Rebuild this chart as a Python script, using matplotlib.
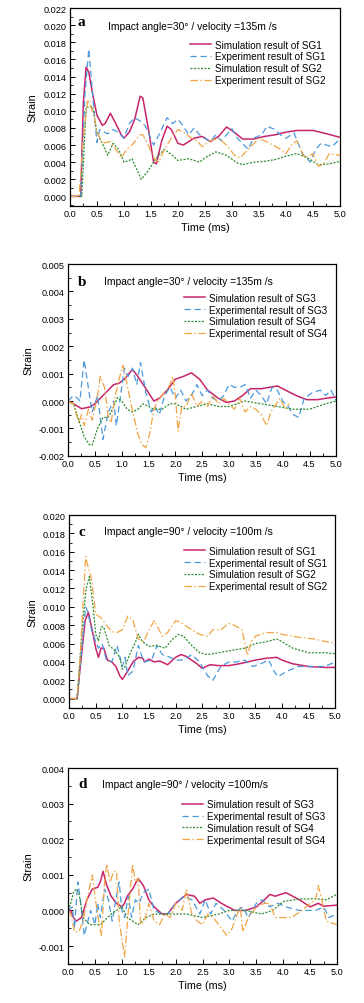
import matplotlib
matplotlib.use("Agg")
import matplotlib.pyplot as plt
from matplotlib.ticker import MultipleLocator, FormatStrFormatter

plt.rcParams['font.family'] = ['Liberation Sans', 'DejaVu Sans']

# ---- panel a: impact angle 30 deg, SG1 / SG2 ----
a_sim1_t = [0, 0.2, 0.25, 0.30, 0.35, 0.42, 0.5, 0.6, 0.65, 0.75, 0.85, 0.95, 1.0, 1.1, 1.2, 1.3, 1.35,
            1.45, 1.55, 1.6, 1.7, 1.8, 1.88, 2.0, 2.1, 2.3, 2.45, 2.6, 2.75, 2.9, 3.0, 3.2, 3.4, 3.6,
            3.8, 4.0, 4.2, 4.5, 4.7, 5.0]
a_sim1_v = [0, 0, 0.011, 0.0151, 0.0145, 0.012, 0.0095, 0.0083, 0.0085, 0.0097, 0.0085, 0.0072, 0.0068,
            0.0075, 0.009, 0.0117, 0.0115, 0.008, 0.004, 0.0038, 0.0065, 0.0082, 0.0078, 0.0062, 0.006,
            0.0068, 0.007, 0.0064, 0.007, 0.0081, 0.0077, 0.0067, 0.0067, 0.007, 0.0072, 0.0075, 0.0077,
            0.0077, 0.0074, 0.0069]
a_exp1_t = [0, 0.2, 0.28, 0.35, 0.42, 0.5, 0.55, 0.7, 0.8, 0.9, 1.0, 1.1, 1.2, 1.3, 1.4, 1.55, 1.65, 1.8,
            1.9, 2.0, 2.1, 2.2, 2.3, 2.4, 2.5, 2.6, 2.7, 2.8, 2.9, 3.0, 3.1, 3.3, 3.4, 3.55, 3.65, 3.8,
            3.9, 4.0, 4.15, 4.3, 4.45, 4.55, 4.65, 4.85, 5.0]
a_exp1_v = [0, 0, 0.012, 0.0172, 0.012, 0.0063, 0.0078, 0.0073, 0.0078, 0.0075, 0.0068, 0.0085, 0.0092,
            0.0088, 0.0082, 0.006, 0.0072, 0.0092, 0.0085, 0.009, 0.0082, 0.0072, 0.008, 0.0072, 0.0068,
            0.0064, 0.0072, 0.0065, 0.0072, 0.0079, 0.0068, 0.0055, 0.0068, 0.0072, 0.0082, 0.0078,
            0.0072, 0.0068, 0.0074, 0.005, 0.004, 0.0055, 0.0062, 0.0058, 0.0067]
a_sim2_t = [0, 0.22, 0.3, 0.42, 0.5, 0.6, 0.7, 0.8, 0.9, 1.0, 1.1, 1.15, 1.25, 1.32, 1.45, 1.6, 1.75,
            1.9, 2.0, 2.2, 2.4, 2.5, 2.7, 2.9, 3.1, 3.2, 3.4, 3.6, 3.8, 4.0, 4.2, 4.4, 4.6, 4.8, 5.0]
a_sim2_v = [0, 0, 0.0104, 0.0105, 0.0075, 0.0062, 0.0048, 0.0062, 0.0055, 0.004, 0.0042, 0.0044, 0.003,
            0.002, 0.003, 0.0045, 0.0055, 0.0048, 0.0042, 0.0044, 0.004, 0.0045, 0.0052, 0.0048, 0.0039,
            0.0037, 0.004, 0.0041, 0.0043, 0.0047, 0.005, 0.0045, 0.0037, 0.0038, 0.0041]
a_exp2_t = [0, 0.17, 0.25, 0.33, 0.45, 0.5, 0.6, 0.75, 0.85, 0.95, 1.05, 1.15, 1.3, 1.35, 1.45, 1.55,
            1.65, 1.75, 1.9, 2.0, 2.1, 2.25, 2.35, 2.45, 2.6, 2.75, 2.9, 3.05, 3.15, 3.3, 3.5, 3.7, 3.9,
            4.0, 4.1, 4.2, 4.35, 4.5, 4.6, 4.7, 4.8, 5.0]
a_exp2_v = [0, 0, 0.007, 0.0113, 0.0095, 0.0075, 0.0062, 0.0064, 0.0055, 0.0045, 0.0055, 0.006, 0.0072,
            0.0072, 0.006, 0.0045, 0.004, 0.0055, 0.007, 0.0078, 0.0075, 0.0068, 0.0065, 0.0058, 0.0065,
            0.0068, 0.006, 0.0048, 0.0045, 0.0055, 0.0068, 0.0062, 0.0055, 0.005, 0.006, 0.0065, 0.0045,
            0.005, 0.0035, 0.0038, 0.005, 0.0048]

# ---- panel b: impact angle 30 deg, SG3 / SG4 ----
b_sim3_t = [0, 0.1, 0.25, 0.4, 0.5, 0.6, 0.75, 0.85, 0.95, 1.05, 1.2, 1.3, 1.4, 1.5, 1.6, 1.7, 1.85,
            2.0, 2.15, 2.3, 2.45, 2.6, 2.8, 2.95, 3.1, 3.25, 3.4, 3.6, 3.75, 3.9, 4.05, 4.25, 4.45, 4.65,
            4.8, 5.0]
b_sim3_v = [0, -0.0001, -0.00028, -0.00022, -0.0001, 0.0001, 0.0004, 0.0006, 0.00065, 0.0008, 0.00115,
            0.0009, 0.0006, 0.0003, 0.0, 0.0001, 0.0004, 0.0008, 0.0009, 0.00103, 0.0008, 0.0004, 0.0001,
            -0.00005, 0.0, 0.0002, 0.00045, 0.00045, 0.0005, 0.00055, 0.0004, 0.0002, 0.00005, 0.00005,
            0.0001, 0.00015]
b_exp3_t = [0, 0.1, 0.18, 0.22, 0.3, 0.4, 0.45, 0.55, 0.65, 0.75, 0.85, 0.9, 0.95, 1.05, 1.12, 1.2, 1.28,
            1.35, 1.45, 1.55, 1.62, 1.7, 1.8, 1.9, 2.0, 2.1, 2.2, 2.3, 2.4, 2.5, 2.6, 2.7, 2.8, 2.9, 3.0,
            3.1, 3.2, 3.3, 3.4, 3.5, 3.6, 3.7, 3.8, 3.9, 4.0, 4.1, 4.2, 4.3, 4.4, 4.55, 4.7, 4.8, 4.9, 5.0]
b_exp3_v = [0, 0.0002, 0.0001, 0.0, 0.0015, 0.0002, -0.0004, 0.0002, -0.0014, -0.0004, 0.0, -0.0009,
            -0.0002, 0.0012, 0.0009, 0.0012, 0.0006, 0.0014, 0.0003, -0.0004, -0.0002, -0.0005, 0.0002,
            0.0005, 0.0001, 0.0004, 0.0, 0.0002, 0.0006, 0.0002, 0.0004, 0.0001, 0.0, 0.0002, 0.0006,
            0.0005, 0.0005, 0.0006, 0.0001, 0.0004, 0.0002, -0.0001, 0.0005, 0.0004, 0.0, -0.0002,
            -0.0005, -0.0006, 0.0001, 0.0003, 0.0004, 0.0002, 0.0004, 0.0]
b_sim4_t = [0, 0.1, 0.2, 0.3, 0.4, 0.45, 0.55, 0.65, 0.75, 0.85, 0.92, 1.0, 1.1, 1.2, 1.3, 1.4, 1.5, 1.6,
            1.75, 1.9, 2.0, 2.2, 2.4, 2.6, 2.8, 3.0, 3.3, 3.6, 3.9, 4.2, 4.5, 4.8, 5.0]
b_sim4_v = [0, -0.0001, -0.0007, -0.0013, -0.0016, -0.0016, -0.001, -0.0006, -0.0006, -0.0002, 0.00012,
            0.0, -0.0003, -0.0004, -0.0003, -0.0001, -0.0002, -0.0003, -0.0003, -0.0001, -0.0001, -0.0003,
            -0.0002, -0.0001, -0.0002, -0.0002, 0.0, -0.0001, -0.0002, -0.0003, -0.0003, -0.0001, 0.0]
b_exp4_t = [0, 0.1, 0.2, 0.25, 0.3, 0.38, 0.45, 0.55, 0.6, 0.68, 0.75, 0.8, 0.88, 0.95, 1.02, 1.08, 1.15,
            1.22, 1.3, 1.38, 1.45, 1.52, 1.6, 1.7, 1.8, 1.9, 1.95, 2.0, 2.05, 2.12, 2.2, 2.3, 2.4, 2.5,
            2.6, 2.7, 2.8, 2.9, 3.0, 3.1, 3.2, 3.3, 3.4, 3.5, 3.6, 3.7, 3.78, 3.85, 3.95, 4.05, 4.12]
b_exp4_v = [0, -0.0001, -0.0008, -0.0005, -0.0009, -0.0003, -0.0007, 0.0002, 0.0009, 0.0005, -0.0006,
            -0.0008, 0.0002, 0.0008, 0.0013, 0.0008, 0.0001, -0.0005, -0.0012, -0.0016, -0.0017, -0.0012,
            -0.0003, 0.0001, 0.0003, 0.0006, 0.0009, 0.0002, -0.0011, -0.0002, -0.0002, 0.0003, -0.0002,
            0.0, -0.0002, 0.0002, -0.0001, 0.0001, -0.0001, -0.0003, 0.0001, -0.0004, -0.0002, -0.0003,
            -0.0005, -0.0009, -0.0004, -0.0002, 0.0001, -0.0003, -0.0001]

# ---- panel c: impact angle 90 deg, SG1 / SG2 ----
c_sim1_t = [0, 0.15, 0.2, 0.3, 0.36, 0.45, 0.5, 0.55, 0.6, 0.65, 0.72, 0.8, 0.88, 0.95, 1.0, 1.1, 1.2,
            1.3, 1.38, 1.42, 1.5, 1.6, 1.7, 1.85, 2.0, 2.1, 2.2, 2.4, 2.5, 2.65, 2.8, 3.0, 3.2, 3.5, 3.7,
            3.9, 4.0, 4.2, 4.5, 4.8, 5.0]
c_sim1_v = [0, 0, 0.003, 0.0085, 0.0094, 0.007, 0.0055, 0.0045, 0.0055, 0.0055, 0.0042, 0.004, 0.0035,
            0.0025, 0.0021, 0.003, 0.004, 0.0045, 0.0044, 0.004, 0.0043, 0.004, 0.0041, 0.0037, 0.0045,
            0.0048, 0.0046, 0.0038, 0.0033, 0.0037, 0.0036, 0.0036, 0.0038, 0.0042, 0.0044, 0.0045,
            0.0042, 0.0038, 0.0035, 0.0034, 0.0034]
c_exp1_t = [0, 0.15, 0.31, 0.35, 0.42, 0.5, 0.55, 0.62, 0.7, 0.8, 0.9, 1.0, 1.05, 1.1, 1.2, 1.3, 1.4,
            1.55, 1.65, 1.75, 1.9, 2.0, 2.15, 2.3, 2.45, 2.6, 2.7, 2.85, 3.0, 3.15, 3.3, 3.45, 3.6, 3.75,
            3.85, 3.92, 4.1, 4.3, 4.6, 4.8, 5.0]
c_exp1_v = [0, 0, 0.01, 0.0095, 0.0075, 0.0062, 0.0055, 0.006, 0.0042, 0.004, 0.0058, 0.0035, 0.0045,
            0.0025, 0.003, 0.0058, 0.004, 0.0042, 0.0058, 0.0048, 0.0045, 0.0042, 0.0042, 0.0048, 0.004,
            0.0025, 0.002, 0.0035, 0.004, 0.004, 0.0042, 0.0035, 0.0038, 0.0042, 0.003, 0.0024, 0.003,
            0.0035, 0.0035, 0.0035, 0.004]
c_sim2_t = [0, 0.15, 0.25, 0.32, 0.38, 0.45, 0.5, 0.55, 0.6, 0.65, 0.75, 0.85, 0.95, 1.0, 1.05, 1.15,
            1.25, 1.3, 1.38, 1.5, 1.65, 1.8, 1.95, 2.05, 2.15, 2.3, 2.45, 2.6, 2.8, 3.0, 3.3, 3.5, 3.7,
            3.9, 4.0, 4.2, 4.5, 4.8, 5.0]
c_sim2_v = [0, 0, 0.008, 0.012, 0.0133, 0.01, 0.007, 0.0063, 0.0078, 0.0078, 0.0058, 0.0053, 0.0045,
            0.0032, 0.0035, 0.005, 0.0062, 0.007, 0.0062, 0.0057, 0.0058, 0.0055, 0.0065, 0.007, 0.0068,
            0.0058, 0.005, 0.0048, 0.005, 0.0052, 0.0055, 0.006, 0.0062, 0.0065, 0.0062, 0.0055, 0.005,
            0.005, 0.0049]
c_exp2_t = [0, 0.15, 0.2, 0.31, 0.35, 0.42, 0.5, 0.6, 0.7, 0.8, 0.9, 1.0, 1.1, 1.2, 1.3, 1.4, 1.5, 1.6,
            1.75, 1.85, 2.0, 2.1, 2.3, 2.45, 2.6, 2.7, 2.85, 3.0, 3.1, 3.25, 3.3, 3.35, 3.42, 3.5, 3.7,
            3.9, 4.0, 4.3, 4.6, 5.0]
c_exp2_v = [0, 0, 0.004, 0.0155, 0.0145, 0.013, 0.0092, 0.0088, 0.008, 0.0073, 0.0072, 0.0075, 0.009,
            0.0085, 0.0065, 0.0062, 0.0075, 0.0085, 0.0068, 0.0072, 0.0085, 0.0083, 0.0075, 0.007,
            0.0068, 0.0075, 0.0075, 0.0082, 0.008, 0.0075, 0.006, 0.0047, 0.0062, 0.0068, 0.0072, 0.0072,
            0.007, 0.0067, 0.0065, 0.006]

# ---- panel d: impact angle 90 deg, SG3 / SG4 ----
d_sim3_t = [0, 0.05, 0.1, 0.15, 0.25, 0.35, 0.45, 0.55, 0.6, 0.65, 0.72, 0.8, 0.9, 1.0, 1.05, 1.1, 1.2,
            1.3, 1.4, 1.5, 1.6, 1.75, 1.85, 2.0, 2.2, 2.35, 2.45, 2.55, 2.7, 2.85, 3.1, 3.3, 3.5, 3.65,
            3.75, 3.85, 4.05, 4.3, 4.5, 4.65, 4.75, 5.0]
d_sim3_v = [0, 0.0, -0.0002, -0.0003, -0.0002, 0.0003, 0.0006, 0.00065, 0.0008, 0.0011, 0.0007, 0.0004,
            0.0002, 0.0001, 0.0002, 0.0004, 0.0006, 0.0009, 0.0007, 0.0003, 0.0001, -0.0001, -0.0001,
            0.0002, 0.00045, 0.0004, 0.0002, 0.0003, 0.00035, 0.0002, 0.0, 0.0, 0.0001, 0.0003, 0.00045,
            0.0004, 0.0005, 0.0003, 0.0001, 0.0002, 0.00012, 0.00015]
d_exp3_t = [0, 0.08, 0.12, 0.18, 0.22, 0.3, 0.35, 0.42, 0.5, 0.55, 0.6, 0.68, 0.75, 0.82, 0.9, 0.95, 1.0,
            1.05, 1.12, 1.18, 1.25, 1.32, 1.4, 1.5, 1.6, 1.75, 1.85, 2.0, 2.15, 2.3, 2.45, 2.55, 2.65,
            2.75, 2.9, 3.05, 3.15, 3.25, 3.35, 3.5, 3.6, 3.75, 3.9, 4.05, 4.3, 4.6, 4.75, 4.85, 5.0]
d_exp3_v = [0, 0.0001, -0.0005, 0.0008, 0.0004, -0.0007, -0.0004, 0.0, -0.0004, 0.0002, -0.0002, 0.0006,
            0.0003, -0.0003, 0.0004, 0.0008, 0.0, -0.0002, 0.0004, -0.0002, 0.0003, 0.0002, 0.0005,
            0.0006, 0.0, -0.0001, -0.0001, 0.0002, 0.0004, 0.0003, -0.0001, 0.0003, -0.0001, 0.0002, 0.0,
            -0.0003, 0.0, 0.0001, -0.0002, 0.0002, 0.0003, 0.0001, 0.0002, 0.0001, 0.0, 0.0, 0.0001,
            -0.0002, -0.0001]
d_sim4_t = [0, 0.05, 0.1, 0.15, 0.2, 0.28, 0.4, 0.6, 0.8, 1.0, 1.1, 1.3, 1.45, 1.6, 1.8, 2.0, 2.2, 2.5,
            2.8, 3.0, 3.3, 3.6, 3.8, 4.0, 4.3, 4.6, 4.8, 5.0]
d_sim4_v = [0, 0.0002, 0.0005, 0.0006, 0.0005, -0.0002, -0.0004, -0.0004, -0.0001, 0.0001, -0.0002,
            -0.0004, -0.0002, -0.0001, -0.0001, -0.0001, -0.0001, -0.0002, -0.0001, 0.0, 0.0, -0.0001,
            0.0, 0.00025, 0.00032, 0.00033, 0.0003, 0.00045]
d_exp4_t = [0, 0.05, 0.12, 0.2, 0.28, 0.35, 0.45, 0.5, 0.58, 0.62, 0.68, 0.72, 0.78, 0.85, 0.9, 0.95,
            1.0, 1.05, 1.1, 1.15, 1.2, 1.25, 1.3, 1.35, 1.42, 1.5, 1.6, 1.7, 1.8, 1.9, 2.0, 2.12, 2.2,
            2.3, 2.4, 2.5, 2.6, 2.7, 2.8, 2.95, 3.05, 3.12, 3.2, 3.25, 3.35, 3.5, 3.65, 3.75, 3.85, 4.0,
            4.15, 4.35, 4.5, 4.6, 4.65, 4.7, 4.8, 5.0]
d_exp4_v = [0, -0.0001, -0.0006, -0.0006, -0.0003, 0.0003, 0.001, 0.0004, -0.0004, -0.0007, 0.0008,
            0.0013, 0.0008, 0.0011, 0.0011, -0.0003, -0.0008, -0.0013, -0.0004, 0.0005, 0.0013, 0.0008,
            0.0009, -0.0004, -0.0003, 0.0002, -0.0003, -0.0004, -0.0001, -0.0002, 0.0002, 0.0, 0.0006,
            -0.0001, -0.0003, -0.0004, -0.0001, -0.0002, -0.0004, -0.0007, -0.0005, -0.0002, 0.0001,
            -0.0006, -0.0002, 0.0001, 0.0002, 0.0002, -0.0002, -0.0002, -0.0002, 0.0, 0.0002, 0.0003,
            0.0007, 0.0004, -0.0003, -0.0004]

labels_a = ['Simulation result of SG1', 'Experiment result of SG1',
            'Simulation result of SG2', 'Experiment result of SG2']
labels_b = ['Simulation result of SG3', 'Experimental result of SG3',
            'Simulation result of SG4', 'Experimental result of SG4']
labels_c = ['Simulation result of SG1', 'Experimental result of SG1',
            'Simulation result of SG2', 'Experimental result of SG2']
labels_d = labels_b

# styles: sim A, exp A, sim B, exp B
colors = ['#C8246C', '#4A98DC', '#2E8B2E', '#F2A444']
styles = ['-', (0, (5, 3)), (0, (1.6, 1.2)), (0, (6, 2, 1.2, 2))]
widths = [1.1, 0.9, 0.9, 0.9]

panels = [
    dict(series=[(a_sim1_t, a_sim1_v), (a_exp1_t, a_exp1_v), (a_sim2_t, a_sim2_v), (a_exp2_t, a_exp2_v)],
         labels=labels_a, letter='a', note='Impact angle=30\u00b0 / velocity =135m /s',
         rect=[0.192, 0.794, 0.742, 0.197], ylim=(-0.0011, 0.022), major=0.002,
         letter_xy=(0.03, 0.93), note_xy=(0.14, 0.91), leg_xy=(0.445, 0.84)),
    dict(series=[(b_sim3_t, b_sim3_v), (b_exp3_t, b_exp3_v), (b_sim4_t, b_sim4_v), (b_exp4_t, b_exp4_v)],
         labels=labels_b, letter='b', note='Impact angle=30\u00b0 / velocity =135m /s',
         rect=[0.187, 0.545, 0.737, 0.191], ylim=(-0.002, 0.005), major=0.001,
         letter_xy=(0.037, 0.91), note_xy=(0.134, 0.91), leg_xy=(0.432, 0.85)),
    dict(series=[(c_sim1_t, c_sim1_v), (c_exp1_t, c_exp1_v), (c_sim2_t, c_sim2_v), (c_exp2_t, c_exp2_v)],
         labels=labels_c, letter='c', note='Impact angle=90\u00b0 / velocity =100m /s',
         rect=[0.190, 0.294, 0.731, 0.192], ylim=(-0.001, 0.020), major=0.002,
         letter_xy=(0.034, 0.917), note_xy=(0.13, 0.917), leg_xy=(0.432, 0.84)),
    dict(series=[(d_sim3_t, d_sim3_v), (d_exp3_t, d_exp3_v), (d_sim4_t, d_sim4_v), (d_exp4_t, d_exp4_v)],
         labels=labels_d, letter='d', note='Impact angle=90\u00b0 / velocity =100m/s',
         rect=[0.187, 0.039, 0.739, 0.195], ylim=(-0.0015, 0.004), major=0.001,
         letter_xy=(0.037, 0.92), note_xy=(0.127, 0.92), leg_xy=(0.425, 0.84)),
]

fig = plt.figure(figsize=(3.64, 10.04), dpi=100)

for p in panels:
    ax = fig.add_axes(p['rect'])
    for (t, v), c, ls, lw, lab in zip(p['series'], colors, styles, widths, p['labels']):
        ax.plot(t, v, color=c, linestyle=ls, linewidth=lw, label=lab)

    ax.set_xlim(0, 5.0)
    ax.set_ylim(*p['ylim'])
    ax.xaxis.set_major_locator(MultipleLocator(0.5))
    ax.xaxis.set_minor_locator(MultipleLocator(0.25))
    ax.yaxis.set_major_locator(MultipleLocator(p['major']))
    ax.yaxis.set_minor_locator(MultipleLocator(p['major'] / 2))
    ax.xaxis.set_major_formatter(FormatStrFormatter('%.1f'))
    ax.yaxis.set_major_formatter(FormatStrFormatter('%.3f'))
    ax.tick_params(which='major', direction='in', length=3.5, width=0.7, labelsize=6.6, pad=2.5)
    ax.tick_params(which='minor', direction='in', length=2, width=0.6)
    for s in ax.spines.values():
        s.set_linewidth(0.9)

    ax.set_xlabel('Time (ms)', fontsize=7.8, labelpad=2.5)
    ax.set_ylabel('Strain', fontsize=7.8, labelpad=4)

    ax.text(*p['letter_xy'], p['letter'], transform=ax.transAxes, fontsize=11, fontweight='bold',
            family='Liberation Serif', va='center', ha='left')
    ax.text(*p['note_xy'], p['note'], transform=ax.transAxes, fontsize=7.4, va='center', ha='left')

    ax.legend(loc='upper left', bbox_to_anchor=p['leg_xy'], frameon=False, fontsize=7.1,
              handlelength=2.1, handletextpad=0.4, labelspacing=0.18, borderpad=0, borderaxespad=0)

fig.savefig('out.png', dpi=100)
